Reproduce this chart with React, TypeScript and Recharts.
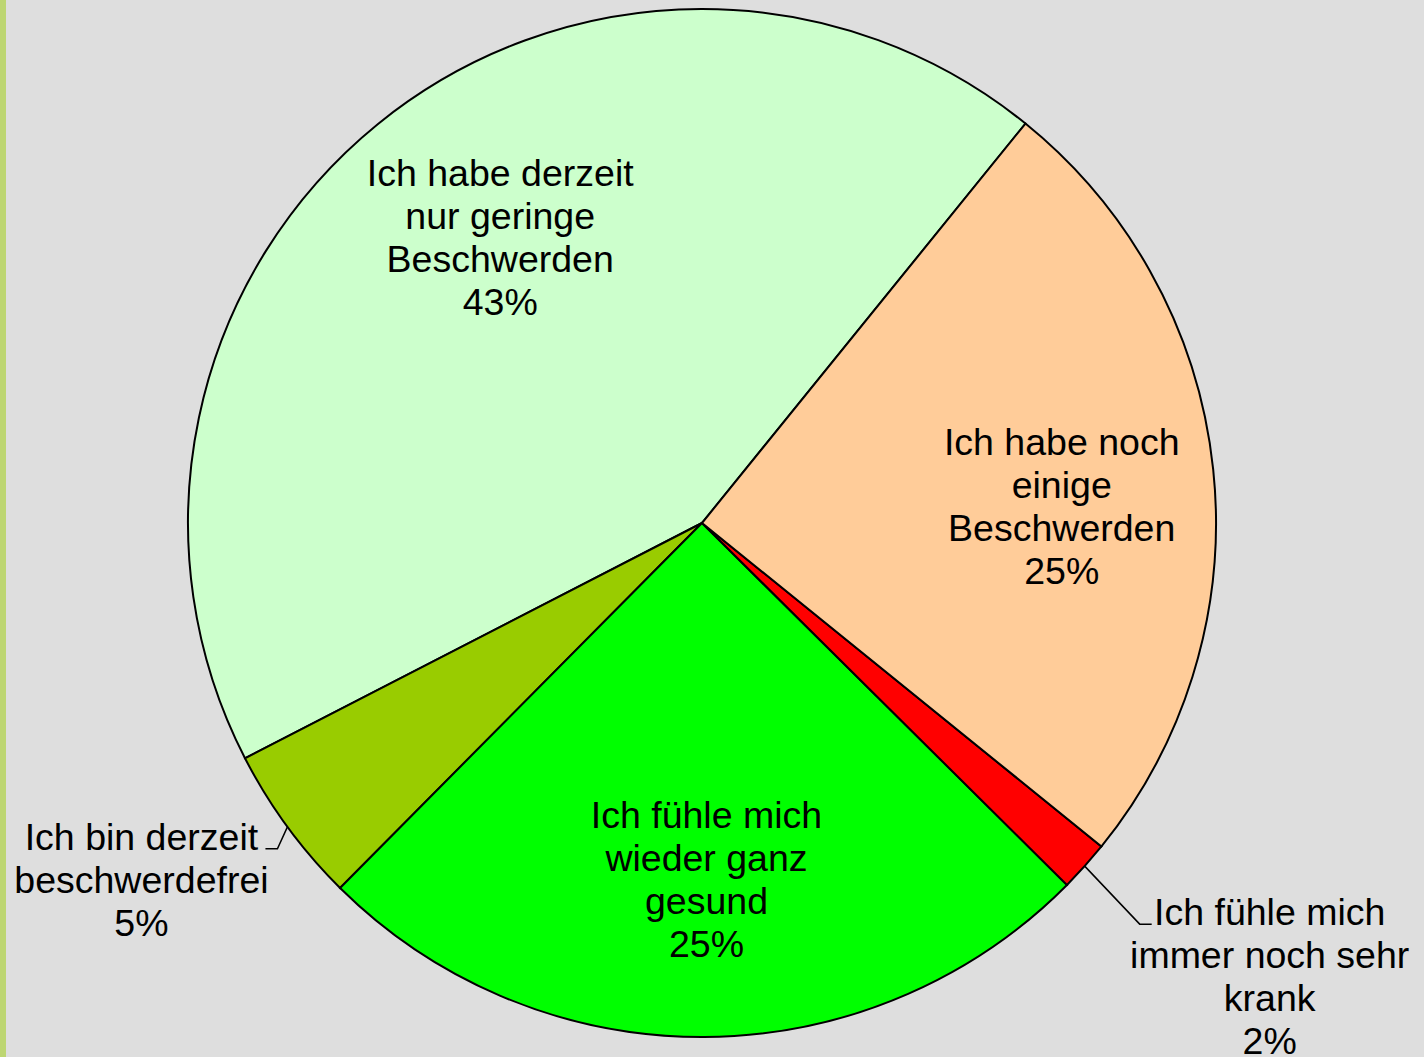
import React from 'react';
import { PieChart, Pie, Cell } from 'recharts';

const categories = [
  'Ich habe derzeit nur geringe Beschwerden',
  'Ich bin derzeit beschwerdefrei',
  'Ich fühle mich wieder ganz gesund',
  'Ich fühle mich immer noch sehr krank',
  'Ich habe noch einige Beschwerden',
];
const values = [43.4, 5.0, 25.0, 1.6, 25.0];
const percentLabels = ['43%', '5%', '25%', '2%', '25%'];
const labelLines = [
  ['Ich habe derzeit', 'nur geringe', 'Beschwerden'],
  ['Ich bin derzeit', 'beschwerdefrei'],
  ['Ich fühle mich', 'wieder ganz', 'gesund'],
  ['Ich fühle mich', 'immer noch sehr', 'krank'],
  ['Ich habe noch', 'einige', 'Beschwerden'],
];
const colors = ['#CCFFCC', '#99CC00', '#00FF00', '#FF0000', '#FFCC99'];

const data = categories.map((name, i) => ({ name, value: values[i] }));

const FONT = '"Liberation Sans", Arial, sans-serif';
const FS = 37.5;
const LH = 43;
const RAD = Math.PI / 180;

const polar = (cx: number, cy: number, r: number, a: number) => ({
  x: cx + r * Math.cos(-a * RAD),
  y: cy + r * Math.sin(-a * RAD),
});

// label nudges for inside labels (visual fine tuning)
const insideNudge: Record<number, [number, number]> = {
  0: [22, -10],
  2: [3, 2],
  4: [7, 21],
};

const renderLabel = (props: any) => {
  const { cx, cy, midAngle, outerRadius, index } = props;
  const lines = [...labelLines[index], percentLabels[index]];
  if (index === 1 || index === 3) {
    const p0 = polar(cx, cy, outerRadius, midAngle);
    let p1, p2, tx;
    if (index === 1) {
      p1 = { x: p0.x - 10, y: p0.y + 22 };
      p2 = { x: p1.x - 12, y: p1.y };
      tx = p2.x - 124;
    } else {
      p1 = { x: p0.x + 55, y: p0.y + 58 };
      p2 = { x: p1.x + 12, y: p1.y };
      tx = p2.x + 118;
    }
    return (
      <g key={`lbl-${index}`}>
        <polyline
          points={`${p0.x},${p0.y} ${p1.x},${p1.y} ${p2.x},${p2.y}`}
          fill="none"
          stroke="#000"
          strokeWidth={1.5}
        />
        <text x={tx} y={p2.y} textAnchor="middle" fontFamily={FONT} fontSize={FS} fill="#000">
          {lines.map((l, k) => (
            <tspan key={k} x={tx} y={p2.y + 1 + k * LH}>
              {l}
            </tspan>
          ))}
        </text>
      </g>
    );
  }
  const c = polar(cx, cy, outerRadius * 0.69, midAngle);
  const [nx, ny] = insideNudge[index] || [0, 0];
  const x = c.x + nx;
  const yc = c.y + ny;
  const firstCenter = yc - ((lines.length - 1) * LH) / 2;
  return (
    <text key={`lbl-${index}`} x={x} y={firstCenter} textAnchor="middle" fontFamily={FONT} fontSize={FS} fill="#000">
      {lines.map((l, k) => (
        <tspan key={k} x={x} y={firstCenter + k * LH + 13}>
          {l}
        </tspan>
      ))}
    </text>
  );
};

export default function App() {
  return (
    <div
      style={{
        position: 'absolute',
        left: 0,
        top: 0,
        width: 1424,
        height: 1057,
        background: '#DEDEDE',
        overflow: 'hidden',
      }}
    >
      <div style={{ position: 'absolute', left: 0, top: 0, width: 6, height: 1057, background: '#BDD672' }} />
      <div style={{ position: 'absolute', left: 0, top: 0 }}>
        <PieChart width={1424} height={1057} margin={{ top: 0, right: 0, bottom: 0, left: 0 }}>
          <Pie
            data={data}
            dataKey="value"
            nameKey="name"
            cx={702}
            cy={523}
            outerRadius={514}
            startAngle={51}
            endAngle={411}
            stroke="#000"
            strokeWidth={2}
            label={renderLabel}
            labelLine={false}
            isAnimationActive={false}
          >
            {data.map((d, i) => (
              <Cell key={d.name} fill={colors[i]} stroke="#000" strokeWidth={2} />
            ))}
          </Pie>
        </PieChart>
      </div>
    </div>
  );
}
